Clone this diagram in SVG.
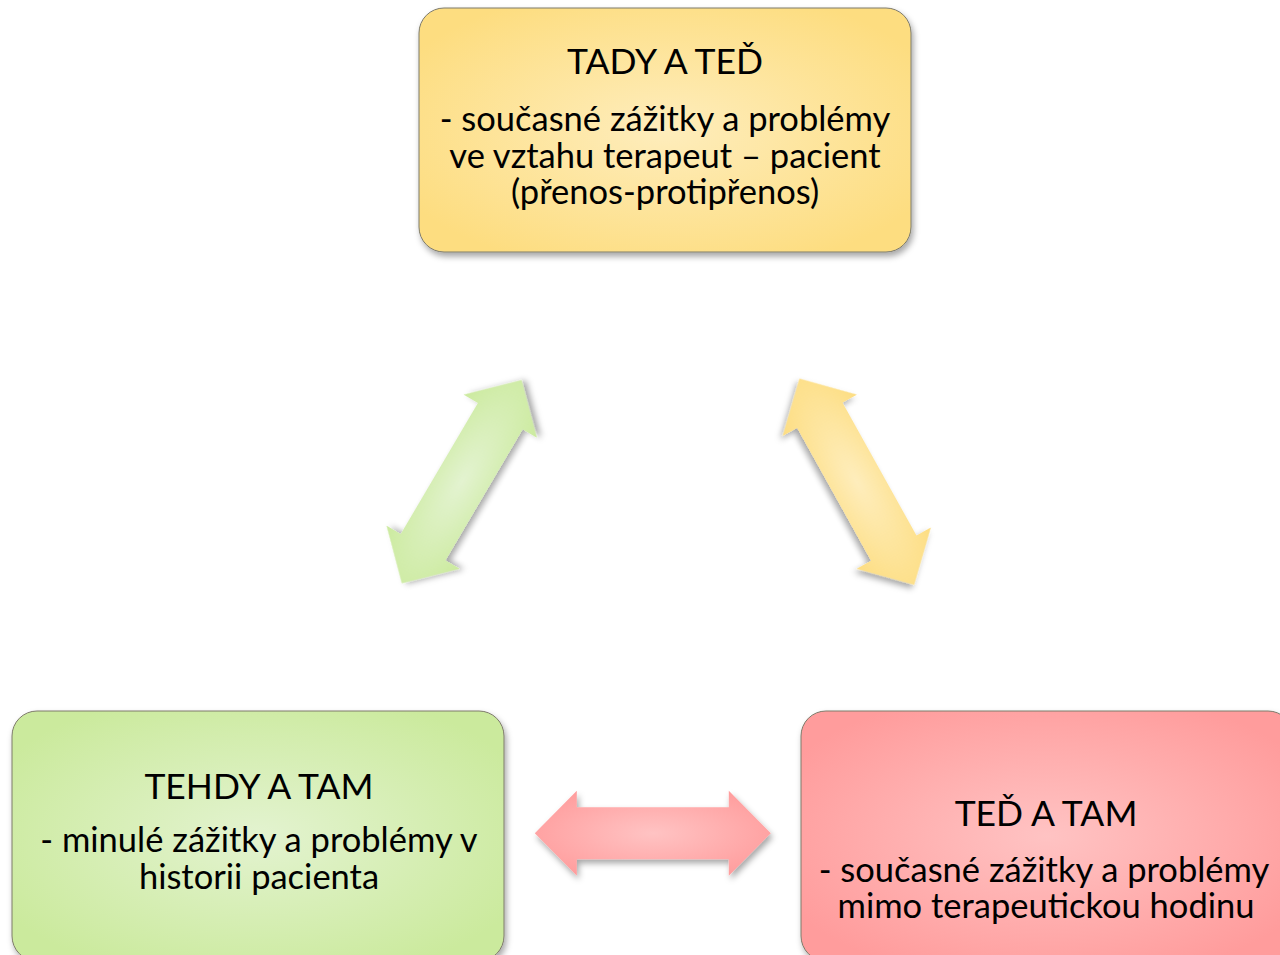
<svg xmlns="http://www.w3.org/2000/svg" width="1280" height="955" viewBox="0 0 1280 955">
<defs>
<filter id="sh" x="-20%" y="-20%" width="140%" height="140%">
<feDropShadow dx="2" dy="4" stdDeviation="3" flood-color="#000" flood-opacity="0.35"/>
</filter>
<radialGradient id="gY" cx="50%" cy="50%" r="60%"><stop offset="0" stop-color="#FEEDBC"/><stop offset="1" stop-color="#FDDD80"/></radialGradient>
<radialGradient id="gG" cx="50%" cy="50%" r="60%"><stop offset="0" stop-color="#E3F3D0"/><stop offset="1" stop-color="#CBEA9D"/></radialGradient>
<radialGradient id="gR" cx="50%" cy="50%" r="60%"><stop offset="0" stop-color="#FFC3C3"/><stop offset="1" stop-color="#FF9C9C"/></radialGradient>
<path id="arr" d="M-118,0 L-76,-42.5 L-76,-26 L76,-26 L76,-42.5 L118,0 L76,42.5 L76,26 L-76,26 L-76,42.5 Z"/>
</defs>
<style>
.box{stroke:#7d7a6a;stroke-width:1;filter:url(#sh)}
.t{font-family:"Lato","Open Sans","Liberation Sans",sans-serif;font-size:34.5px;fill:#000;text-anchor:middle}
.h{font-size:35.5px}
.a{filter:url(#sh)}
</style>
<rect width="1280" height="955" fill="#fff"/>
<g id="connectors">
<use href="#arr" class="a" fill="url(#gG)" transform="translate(461.7,481.7) rotate(-59.5)"/>
<use href="#arr" class="a" fill="url(#gY)" transform="translate(856.8,481.7) rotate(60.9)"/>
<use href="#arr" class="a" fill="url(#gR)" transform="translate(652.8,833.3)"/>
</g>
<g id="node-tady">
<rect class="box" x="419" y="8" width="492" height="244" rx="25" fill="url(#gY)"/>
<text class="t h" x="665" y="74">TADY A TEĎ</text>
<text class="t" x="665" y="131">- současné zážitky a problémy<tspan x="665" dy="37">ve vztahu terapeut – pacient</tspan><tspan x="665" dy="36">(přenos-protipřenos)</tspan></text>
</g>
<g id="node-tehdy">
<rect class="box" x="12" y="711" width="492" height="250" rx="25" fill="url(#gG)"/>
<text class="t h" x="259" y="799">TEHDY A TAM</text>
<text class="t" x="259" y="852">- minulé zážitky a problémy v<tspan x="259" dy="37">historii pacienta</tspan></text>
</g>
<g id="node-ted">
<rect class="box" x="801" y="711" width="492" height="250" rx="25" fill="url(#gR)"/>
<text class="t h" x="1046" y="826">TEĎ A TAM</text>
<text class="t" x="1044" y="882">- současné zážitky a problémy<tspan x="1046" dy="36">mimo terapeutickou hodinu</tspan></text>
</g>
</svg>
